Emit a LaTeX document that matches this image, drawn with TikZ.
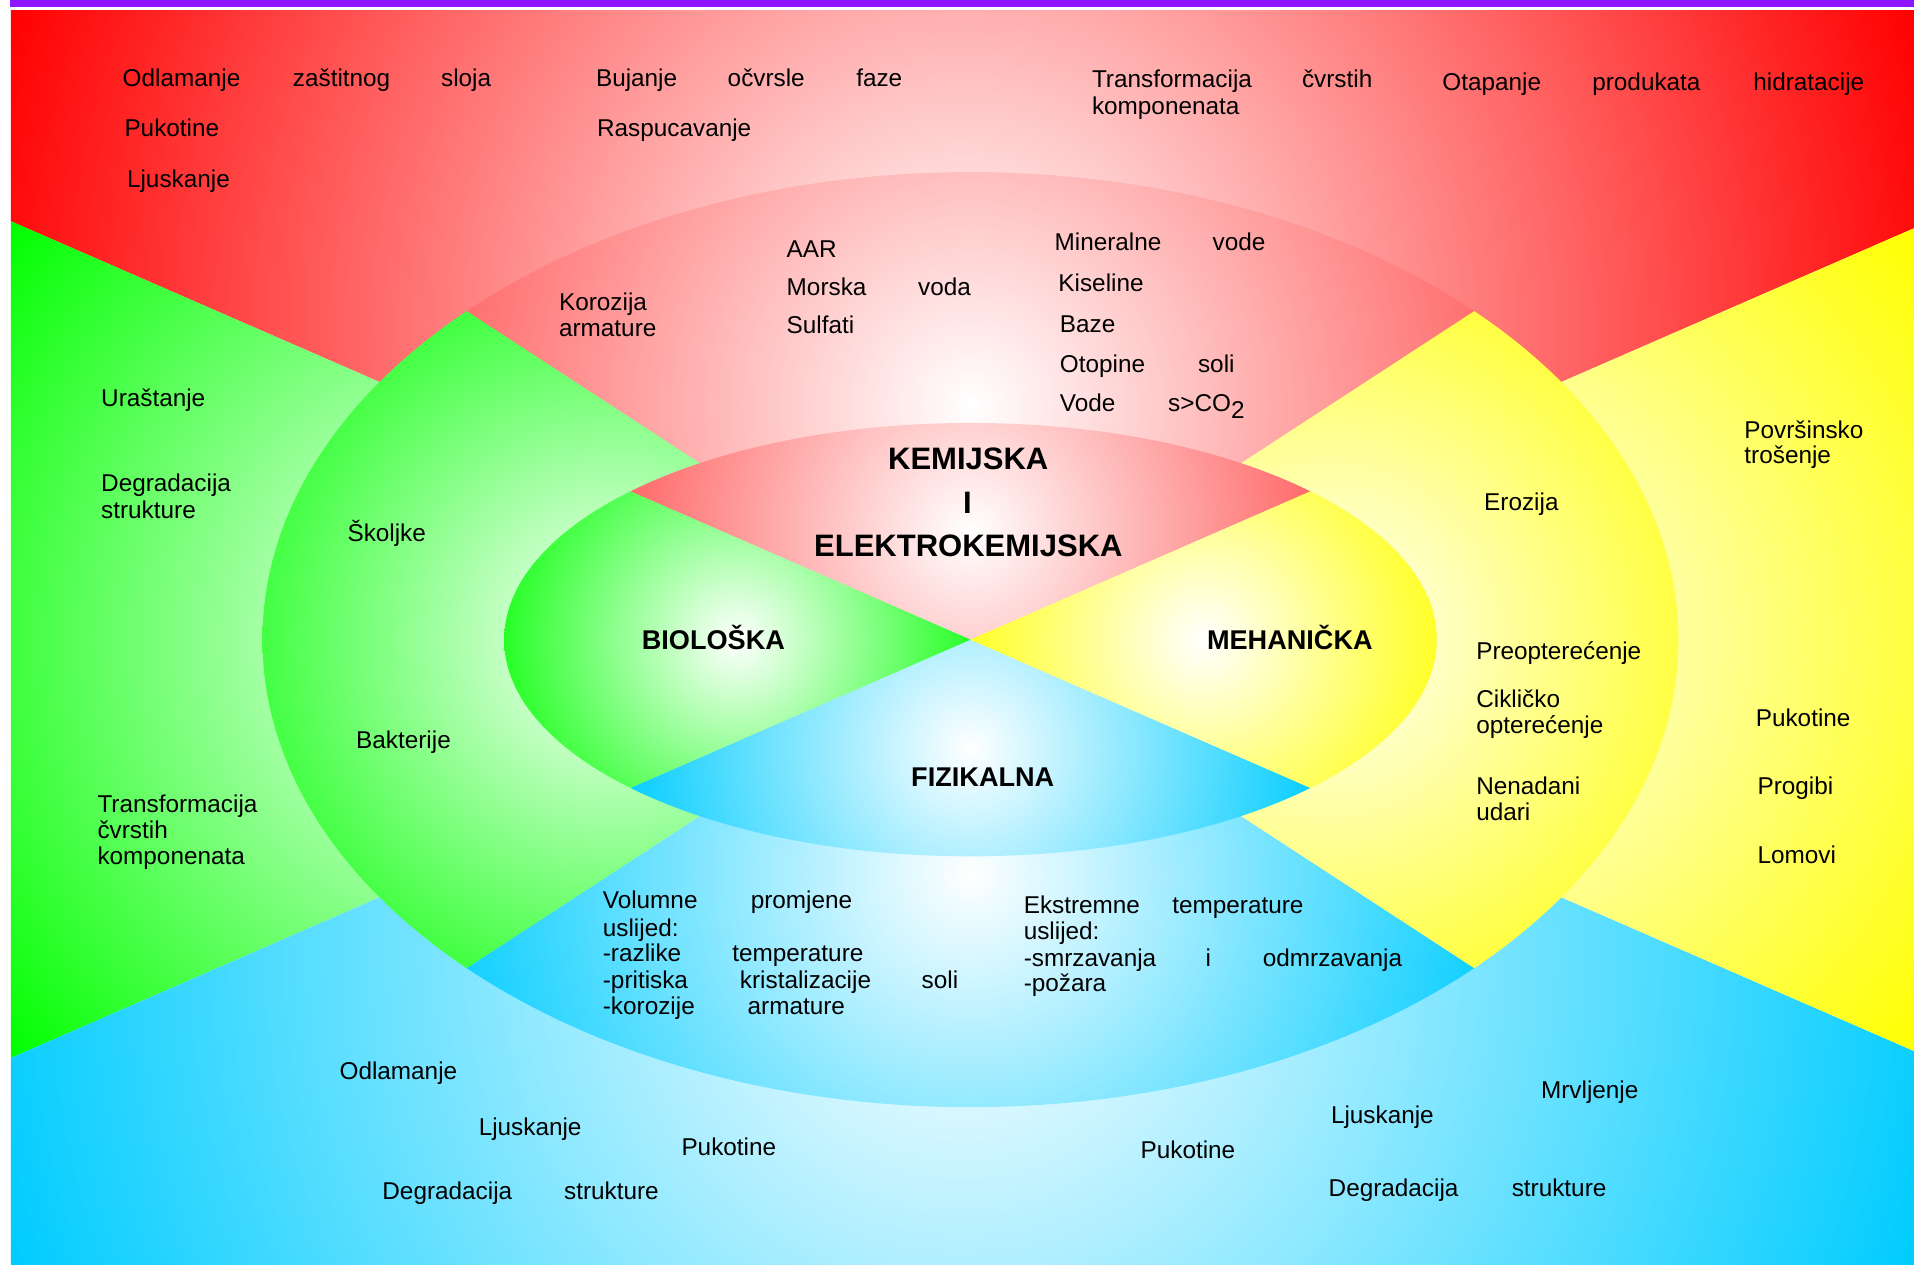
\documentclass[tikz,border=0pt]{standalone}
\usepackage{fontspec}
\setmainfont{Liberation Sans}

% fill colours
\definecolor{barpurple}{RGB}{140,20,255}
\definecolor{redfull}{RGB}{255,0,0}
\definecolor{redsoft}{RGB}{255,100,100}
\definecolor{greenfull}{RGB}{0,255,0}
\definecolor{yellowfull}{RGB}{255,255,0}
\definecolor{bluefull}{RGB}{0,204,255}

% white centre fading out to the sector colour at the circle's rim
\pgfdeclareradialshading{fadeRedOut}{\pgfpointorigin}{color(0bp)=(white); color(25bp)=(redfull); color(50bp)=(redfull)}
\pgfdeclareradialshading{fadeRedSoft}{\pgfpointorigin}{color(0bp)=(white); color(25bp)=(redsoft); color(50bp)=(redsoft)}
\pgfdeclareradialshading{fadeGreen}{\pgfpointorigin}{color(0bp)=(white); color(25bp)=(greenfull); color(50bp)=(greenfull)}
\pgfdeclareradialshading{fadeYellow}{\pgfpointorigin}{color(0bp)=(white); color(25bp)=(yellowfull); color(50bp)=(yellowfull)}
\pgfdeclareradialshading{fadeBlue}{\pgfpointorigin}{color(0bp)=(white); color(25bp)=(bluefull); color(50bp)=(bluefull)}

% one sector: region clip, wedge between two far points, shading, centre, radius
\newcommand{\paintsector}[6]{%
  \begin{scope}
    #1
    \clip (C) -- (#2) -- (#3) -- cycle;
    \shade[shading=#4] (#5) circle[radius=#6bp];
  \end{scope}}

% a word in a box of fixed width, so the next word starts at a set place
\newcommand{\wb}[2]{\makebox[#1bp][l]{#2}}

\tikzset{
  lbl/.style={anchor=base west, inner sep=0pt, text=black, font=\fontsize{20}{22}\selectfont},
  head/.style={anchor=base, inner sep=0pt, text=black, font=\fontsize{22.3}{24}\selectfont\bfseries},
  headbig/.style={head, font=\fontsize{25.5}{28}\selectfont\bfseries}
}

\begin{document}
\begin{tikzpicture}[x=1bp,y=-1bp]
\useasboundingbox (0,0) rectangle (1568,1036);
\fill[white] (0,0) rectangle (1568,1036);
\fill[barpurple] (8,0) rectangle (1568,5.7);

% centre and the far points of the sector borders
\coordinate (C) at (795,524);
\coordinate (LUs) at (-1205,-348);
\coordinate (RUs) at (2795,-348);
\coordinate (LDs) at (-1205,1396);
\coordinate (RDs) at (2795,1396);
\coordinate (LUm) at (-205,-128);
\coordinate (RUm) at (1795,-128);
\coordinate (LDm) at (-205,1176);
\coordinate (RDm) at (1795,1176);

% outer field
\paintsector{\clip (9,8.2) rectangle (1568,1036);}{LUs}{RUs}{fadeRedOut}{788.5,266}{821}
\paintsector{\clip (9,8.2) rectangle (1568,1036);}{LDs}{LUs}{fadeGreen}{402,524}{521}
\paintsector{\clip (9,8.2) rectangle (1568,1036);}{RDs}{LDs}{fadeBlue}{788.5,780}{820}
\paintsector{\clip (9,8.2) rectangle (1568,1036);}{RUs}{RDs}{fadeYellow}{1181.5,524}{513}

% large ellipse
\paintsector{\clip (C) ellipse[x radius=580bp, y radius=383bp];}{LUm}{RUm}{fadeRedSoft}{795,332.5}{455}
\paintsector{\clip (C) ellipse[x radius=580bp, y radius=383bp];}{RDm}{LDm}{fadeBlue}{795,715.5}{455}
\paintsector{\clip (C) ellipse[x radius=580bp, y radius=383bp];}{LDm}{LUm}{fadeGreen}{505,524}{395.5}
\paintsector{\clip (C) ellipse[x radius=580bp, y radius=383bp];}{RUm}{RDm}{fadeYellow}{1085,524}{395.5}

% small ellipse
\paintsector{\clip (C) ellipse[x radius=382bp, y radius=177.5bp];}{LUs}{RUs}{fadeRedSoft}{795,435.25}{292.2}
\paintsector{\clip (C) ellipse[x radius=382bp, y radius=177.5bp];}{RDs}{LDs}{fadeBlue}{795,612.75}{292.2}
\paintsector{\clip (C) ellipse[x radius=382bp, y radius=177.5bp];}{LDs}{LUs}{fadeGreen}{604,524}{226.4}
\paintsector{\clip (C) ellipse[x radius=382bp, y radius=177.5bp];}{RUs}{RDs}{fadeYellow}{986,524}{226.4}

% red band, outer
\node[lbl] (odl) at (100.3,70.5) {\wb{139.5}{Odlamanje}\wb{121.4}{zaštitnog}sloja};
\node[lbl] (buj) at (488.1,70.5) {\wb{107.9}{Bujanje}\wb{105.3}{očvrsle}faze};
\node[lbl] (puk1) at (101.8,112) {Pukotine};
\node[lbl] (rasp) at (489,112) {Raspucavanje};
\node[lbl] (ljus1) at (103.9,153.5) {Ljuskanje};
\node[lbl] (trans1) at (894.4,71.5) {\wb{172.1}{Transformacija}čvrstih};
\node[lbl] (komp1) at (894.4,93.5) {komponenata};
\node[lbl] (otap) at (1181.4,74.3) {\wb{122.9}{Otapanje}\wb{131.9}{produkata}hidratacije};

% red band, ellipse
\node[lbl] (koroz) at (457.8,254.7) {Korozija};
\node[lbl] (armat1) at (457.8,275.8) {armature};
\node[lbl] (aar) at (644.3,211.1) {AAR};
\node[lbl] (morska) at (644.3,242.2) {\wb{107.7}{Morska}voda};
\node[lbl] (sulf) at (644.3,273) {Sulfati};
\node[lbl] (miner) at (863.8,205.3) {\wb{129.5}{Mineralne}vode};
\node[lbl] (kisel) at (866.9,238.9) {Kiseline};
\node[lbl] (baze) at (868.1,272.5) {Baze};
\node[lbl] (otop) at (868.1,305.3) {\wb{113.2}{Otopine}soli};
\node[lbl] (vode) at (868.1,337.5) {\wb{88.7}{Vode}s>CO\raisebox{-5bp}{2}};

% headings of the four kinds
\node[headbig] (kem) at (793.2,385) {KEMIJSKA};
\node[headbig] (conj) at (792.5,420.5) {I};
\node[headbig] (elek) at (793.3,456) {ELEKTROKEMIJSKA};
\node[head] (bio) at (584.4,531.7) {BIOLOŠKA};
\node[head] (meh) at (1056.7,531.7) {MEHANIČKA};
\node[head] (fiz) at (805.1,644) {FIZIKALNA};

% green band
\node[lbl] (urast) at (82.7,333.2) {Uraštanje};
\node[lbl] (degr1) at (82.7,402.7) {Degradacija};
\node[lbl] (strk1) at (82.7,424.8) {strukture};
\node[lbl] (trans2) at (79.7,666) {Transformacija};
\node[lbl] (cvrst2) at (79.7,686.8) {čvrstih};
\node[lbl] (komp2) at (79.7,708.4) {komponenata};
\node[lbl] (skolj) at (284.5,443.7) {Školjke};
\node[lbl] (bakt) at (291.6,612.9) {Bakterije};

% yellow band
\node[lbl] (povrs) at (1428.9,359) {Površinsko};
\node[lbl] (trosen) at (1428.9,380.1) {trošenje};
\node[lbl] (eroz) at (1215.7,417.8) {Erozija};
\node[lbl] (preop) at (1209.2,540) {Preopterećenje};
\node[lbl] (cikl) at (1209.2,580) {Cikličko};
\node[lbl] (opter) at (1209.2,601.2) {opterećenje};
\node[lbl] (nenad) at (1209.2,650.6) {Nenadani};
\node[lbl] (udari) at (1209.2,671.8) {udari};
\node[lbl] (puk2) at (1438.2,595) {Pukotine};
\node[lbl] (progib) at (1439.6,650.6) {Progibi};
\node[lbl] (lomovi) at (1439.6,707) {Lomovi};

% blue band, ellipse
\node[lbl] (volum) at (493.7,744.1) {\wb{121.2}{Volumne}promjene};
\node[lbl] (usl1) at (493.7,766.8) {uslijed:};
\node[lbl] (razl) at (493.7,787.8) {\wb{106}{-razlike}temperature};
\node[lbl] (prit) at (493.7,809.6) {\wb{112.3}{-pritiska}\wb{148.9}{kristalizacije}soli};
\node[lbl] (koro2) at (493.7,831.5) {\wb{118.6}{-korozije}armature};
\node[lbl] (ekstr) at (838.5,748.2) {\wb{121.7}{Ekstremne}temperature};
\node[lbl] (usl2) at (838.5,769.5) {uslijed:};
\node[lbl] (smrz) at (838.5,791.4) {\wb{148.9}{-smrzavanja}\wb{47}{i}odmrzavanja};
\node[lbl] (pozar) at (838.5,812.4) {-požara};

% blue band, outer
\node[lbl] (odl2) at (278,884.7) {Odlamanje};
\node[lbl] (ljus2) at (392,930.6) {Ljuskanje};
\node[lbl] (puk3) at (558.1,947) {Pukotine};
\node[lbl] (degr2) at (313.1,983) {\wb{148.9}{Degradacija}strukture};
\node[lbl] (puk4) at (934.2,949) {Pukotine};
\node[lbl] (ljus3) at (1090.2,920) {Ljuskanje};
\node[lbl] (mrvlj) at (1262.3,899.6) {Mrvljenje};
\node[lbl] (degr3) at (1088.3,980.3) {\wb{150}{Degradacija}strukture};
\end{tikzpicture}
\end{document}
